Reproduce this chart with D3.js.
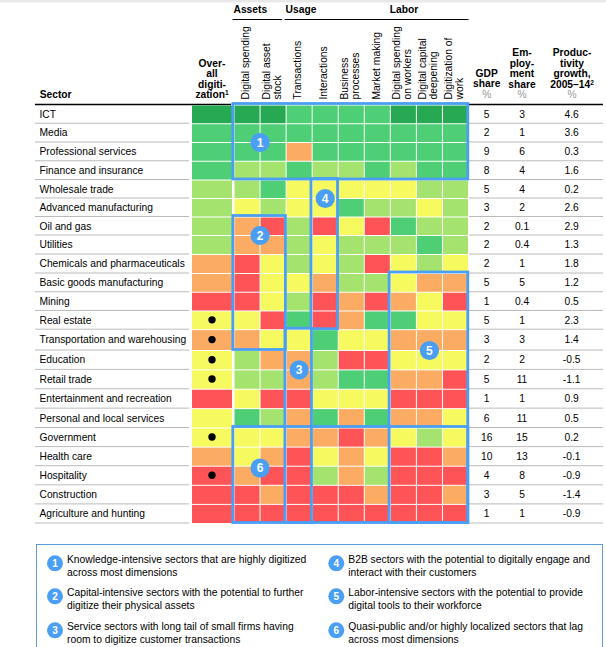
<!DOCTYPE html>
<html><head><meta charset="utf-8">
<script src="https://cdn.jsdelivr.net/npm/d3@7"></script>
<style>html,body{margin:0;padding:0;background:#fff;overflow:hidden}svg{display:block}text{font-family:"Liberation Sans",Arial,sans-serif;fill:#000}</style>
</head><body><svg id="c" width="606" height="647"></svg>
<script>
const sectors=["ICT","Media","Professional services","Finance and insurance","Wholesale trade","Advanced manufacturing","Oil and gas","Utilities","Chemicals and pharmaceuticals","Basic goods manufacturing","Mining","Real estate","Transportation and warehousing","Education","Retail trade","Entertainment and recreation","Personal and local services","Government","Health care","Hospitality","Construction","Agriculture and hunting"];
const columns=["Digital spending","Digital asset|stock","Transactions","Interactions","Business|processes","Market making","Digital spending|on workers","Digital capital|deepening","Digitization of|work"];
const levels=["D","G","L","Y","O","R"];
const levelColors=["#27a853","#4ecf76","#a5e36f","#f6fa5f","#fbab62","#fe5458"];
const overall=["D","G","G","G","L","L","L","L","O","O","R","Y","O","Y","Y","R","Y","Y","O","R","R","R"];
const detail=["DDGGGGDDD","GGGGGGGGG","GGOGGGGGG","LLGLLGLGG","LGYYYYYLL","YLYYGLLYL","ORLRYRGLL","OOLYLLLGL","RYLYLRYLY","RYYOLLYOO","RYLROROYR","YRGROGGYY","OYYGYYOOO","LOOLRRYYY","LLOLGGOOR","YRRYYYRRR","GLOGOGOOY","YYOOROYLY","YORYOYRRO","ORRLOLRRR","RORRRORRO","RRRRRRRRR"];
const gdp=["5","2","9","8","5","3","2","2","2","5","1","5","3","2","5","1","6","16","10","4","3","1"];
const emp=["3","1","6","4","4","2","0.1","0.4","1","5","0.4","1","3","2","11","1","11","15","13","8","5","1"];
const prod=["4.6","3.6","0.3","1.6","0.2","2.6","2.9","1.3","1.8","1.2","0.5","2.3","1.4","-0.5","-1.1","0.9","0.5","0.2","-0.1","-0.9","-1.4","-0.9"];
const dotted=["Real estate","Transportation and warehousing","Education","Retail trade","Government","Hospitality"];
const groups=[["Assets",0,1],["Usage",2,5],["Labor",6,8]];
const boxes=[[1,0,8,0,3],[2,0,1,6,12],[3,2,2,12,21],[4,3,3,4,11],[5,6,8,9,21],[6,0,8,17,21]];
const badges=[[1,1,2],[2,1,7],[3,2.5,14],[4,3.5,5],[5,7.5,13],[6,1,19.1]];
const notes=[["Knowledge-intensive sectors that are highly digitized","across most dimensions"],["Capital-intensive sectors with the potential to further","digitize their physical assets"],["Service sectors with long tail of small firms having","room to digitize customer transactions"],["B2B sectors with the potential to digitally engage and","interact with their customers"],["Labor-intensive sectors with the potential to provide","digital tools to their workforce"],["Quasi-public and/or highly localized sectors that lag","across most dimensions"]];

const BLUE="#4a9ff5";
const FS=10.25;
const svg=d3.select("#c");
const y=d3.scaleLinear().domain([0,4,7,9,12,13,17,22]).range([105,180,235.5,273.5,329.7,350.5,428,523.5]);
const x=d3.scaleBand().domain(d3.range(columns.length)).range([234,468.5]).paddingInner(0);
const color=d3.scaleOrdinal().domain(levels).range(levelColors);

svg.append("rect").attr("width",606).attr("height",2.5).attr("fill","#e8e8e8");

// rules
const rows=d3.range(sectors.length);
[[35,189],[469,603]].forEach(([a,b])=>{
  svg.append("g").selectAll("line").data(rows).join("line")
    .attr("x1",a).attr("x2",b).attr("y1",d=>y(d+1)-0.5).attr("y2",d=>y(d+1)-0.5)
    .attr("stroke","#bbb").attr("stroke-width",1);
});
[[35,231],[469,603]].forEach(([a,b])=>svg.append("line").attr("x1",a).attr("x2",b).attr("y1",104.5).attr("y2",104.5).attr("stroke","#000").attr("stroke-width",1.3));

// cells
svg.append("g").selectAll("rect").data(overall).join("rect")
  .attr("x",192).attr("width",40).attr("y",(d,i)=>y(i)+0.5).attr("height",(d,i)=>y(i+1)-y(i)-1).attr("fill",d=>color(d));
const cells=detail.flatMap((s,r)=>Array.from(s,(v,c)=>({r,c,v})));
svg.append("g").selectAll("rect").data(cells).join("rect")
  .attr("x",d=>x(d.c)+0.5).attr("width",x.bandwidth()-1)
  .attr("y",d=>y(d.r)+0.5).attr("height",d=>y(d.r+1)-y(d.r)-1).attr("fill",d=>color(d.v));

// dots
svg.append("g").selectAll("circle").data(dotted).join("circle")
  .attr("cx",212).attr("cy",d=>{const i=sectors.indexOf(d);return (y(i)+y(i+1))/2-0.5}).attr("r",3.7).attr("fill","#000");

// labels
const rowText=(arr,px,anchor)=>svg.append("g").selectAll("text").data(arr).join("text")
  .attr("x",px).attr("y",(d,i)=>(y(i)+y(i+1))/2+3.3).attr("text-anchor",anchor).attr("font-size",FS).text(d=>d);
rowText(sectors,39.5,"start");
rowText(gdp,486.7,"middle");
rowText(emp,522,"middle");
rowText(prod,571.7,"middle");

// group headers
groups.forEach(([t,a,b],i)=>{
  const x0=x(a)-1.5, x1=x(b)+x.bandwidth()-(i==0?4:(i==1?1:0));
  svg.append("text").attr("x",x0+1).attr("y",13).attr("font-size",FS).attr("font-weight","bold").text(t);
  svg.append("line").attr("x1",x0).attr("x2",x1).attr("y1",19.5).attr("y2",19.5).attr("stroke","#000").attr("stroke-width",1);
});

// rotated headers
columns.forEach((c,i)=>{
  const ls=c.split("|");
  ls.forEach((t,j)=>{
    const cx=x(i)+x.bandwidth()/2-1.3+(j-(ls.length-1)/2)*11.3;
    svg.append("text").attr("transform",`translate(${cx+3.6},99.5) rotate(-90)`).attr("font-size",10.3).text(t);
  });
});

// stacked headers
const stack=(lines,cx,base)=>lines.forEach((t,i)=>{
  svg.append("text").attr("x",cx).attr("y",base+i*10.5).attr("text-anchor","middle").attr("font-size",FS).attr("font-weight","bold").text(t);
});
svg.append("text").attr("x",39.7).attr("y",98).attr("font-size",FS).attr("font-weight","bold").text("Sector");
stack(["Over-","all","digiti-"],212,66.5);
const z=svg.append("text").attr("x",212).attr("y",98).attr("text-anchor","middle").attr("font-size",FS).attr("font-weight","bold").text("zation");
z.append("tspan").attr("font-size",6.5).attr("dy",-3).text("1");
stack(["GDP","share"],486.7,76.7);
stack(["Em-","ploy-","ment","share"],522,56);
stack(["Produc-","tivity","growth,"],572,56);
const p=svg.append("text").attr("x",572).attr("y",87.5).attr("text-anchor","middle").attr("font-size",FS).attr("font-weight","bold").text("2005–14");
p.append("tspan").attr("font-size",6.5).attr("dy",-3).text("2");
[486.7,522,572].forEach(cx=>svg.append("text").attr("x",cx).attr("y",98).attr("text-anchor","middle").attr("font-size",FS).style("fill","#999").text("%"));

// highlight boxes
boxes.forEach(([n,c0,c1,r0,r1])=>{
  const l=x(c0)-1.2, r=x(c1)+x.bandwidth()-0.7, t=y(r0)-1.5, b=y(r1+1)-1;
  svg.append("rect").attr("x",l).attr("width",r-l).attr("y",t).attr("height",b-t)
    .attr("fill","none").attr("stroke",BLUE).attr("stroke-width",2.8);
});
const badge=(cx,cy,n,r,fs)=>{
  svg.append("circle").attr("cx",cx).attr("cy",cy).attr("r",r).attr("fill",BLUE);
  svg.append("text").attr("x",cx).attr("y",cy+fs*0.36).attr("text-anchor","middle").attr("font-size",fs).attr("font-weight","bold").style("fill","#fff").text(n);
};
badges.forEach(([n,c,r])=>{
  const cx=x(Math.floor(c))+(c%1)*x.bandwidth();
  const i=Math.floor(r);
  badge(cx,y(i)+(r-i)*(y(i+1)-y(i)),n,9.6,12);
});

// legend (panel runs off the bottom of the frame)
svg.append("rect").attr("x",36.5).attr("y",544.5).attr("width",566).attr("height",120).attr("fill","none").attr("stroke","#5b9de0").attr("stroke-width",1);
notes.forEach((ls,i)=>{
  const col=i<3?0:1, row=i%3;
  const tx=col?348.3:67, base=[563.3,596.3,630.3][row];
  badge(tx-12,base,i+1,8,10);
  ls.forEach((t,j)=>svg.append("text").attr("x",tx).attr("y",base+(row==2?12.2:13)).attr("font-size",10.3).attr("dy",j?0:-(row==2?12.2:13)).text(t));
});
</script></body></html>
